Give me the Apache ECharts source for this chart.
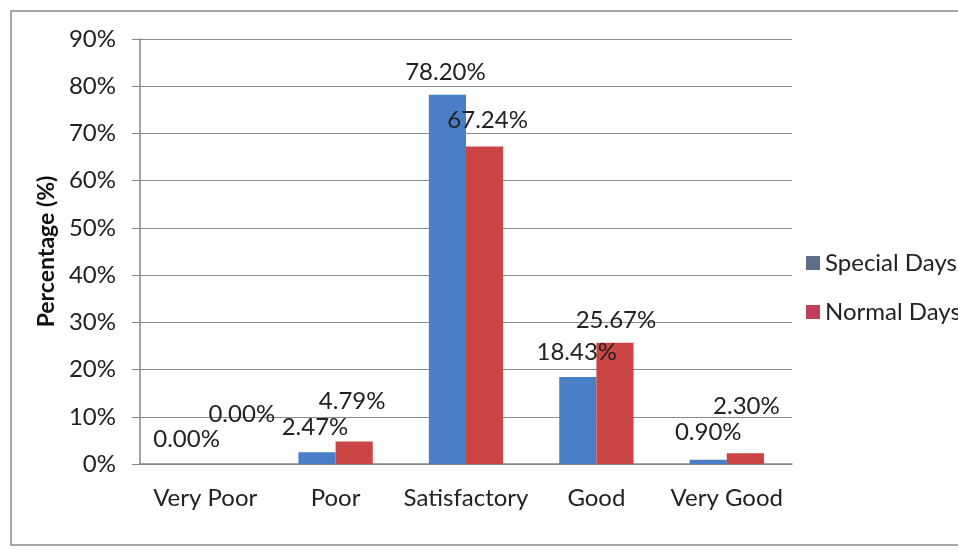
<!DOCTYPE html>
<html><head><meta charset="utf-8">
<script src="https://cdn.jsdelivr.net/npm/echarts@6/dist/echarts.min.js"></script>
<style>html,body{margin:0;padding:0;background:#fff}#c{width:958px;height:550px}</style>
</head><body><div id="c"></div>
<script>
const categories = ['Very Poor','Poor','Satisfactory','Good','Very Good'];
const specialDays = [0.00, 2.47, 78.20, 18.43, 0.90];
const normalDays = [0.00, 4.79, 67.24, 25.67, 2.30];
const yTicks = [0,10,20,30,40,50,60,70,80,90];
// label nudges (as moved in the original)
const specialNudge = [[0,0],[-2,0],[-2,3],[-1,0],[0,-2]];
const normalNudge = [[18,-25],[-2,-15],[3,-1],[1,2],[1,-22]];

const FONT = 'Lato';
const chart = echarts.init(document.getElementById('c'));
function mk(vals, nudge){
  return vals.map((v,i)=>({value:v,label:{offset:nudge[i]}}));
}
chart.setOption({
  animation:false,
  textStyle:{fontFamily:FONT},
  graphic:[{type:'rect',shape:{x:11,y:11,width:960,height:534},style:{fill:'none',stroke:'#8c8c8c',lineWidth:1.5},z:-10}],
  grid:{left:140,top:39,right:166,bottom:86},
  legend:{
    orient:'vertical', left:801, top:246, itemGap:25, itemWidth:14, itemHeight:14,
    icon:'rect',
    textStyle:{fontFamily:FONT,fontSize:24,color:'#222'},
    data:[{name:'Special Days',itemStyle:{color:'#5b6f88'}},{name:'Normal Days',itemStyle:{color:'#c0405c'}}]
  },
  xAxis:{
    type:'category', data:categories,
    axisLine:{lineStyle:{color:'#868686',width:1.5}},
    axisTick:{length:8,lineStyle:{color:'#868686'}},
    axisLabel:{fontSize:24,color:'#222',margin:22,fontFamily:FONT,interval:0}
  },
  yAxis:{
    type:'value', min:yTicks[0], max:yTicks[yTicks.length-1], interval:10,
    name:'Percentage (%)', nameLocation:'middle', nameGap:80, nameRotate:90,
    nameTextStyle:{fontSize:23,fontWeight:'bold',color:'#111',fontFamily:FONT},
    axisLine:{show:true,lineStyle:{color:'#868686',width:1.5}},
    axisTick:{show:true,length:8,inside:false,lineStyle:{color:'#868686'}},
    axisLabel:{formatter:'{value}%',fontSize:24,color:'#222',margin:24,fontFamily:FONT},
    splitLine:{lineStyle:{color:'#8a8a8a',width:1}}
  },
  series:[
    {name:'Special Days',type:'bar',data:mk(specialDays,specialNudge),barGap:'0%',barCategoryGap:'43%',
     itemStyle:{color:'#4a7ec6'},
     label:{show:true,position:'top',distance:13,fontSize:24,color:'#222',fontFamily:FONT,formatter:p=>p.value.toFixed(2)+'%'}},
    {name:'Normal Days',type:'bar',data:mk(normalDays,normalNudge),barGap:'0%',barCategoryGap:'43%',
     itemStyle:{color:'#cc4545'},
     label:{show:true,position:'top',distance:13,fontSize:24,color:'#222',fontFamily:FONT,formatter:p=>p.value.toFixed(2)+'%'}}
  ]
});
</script></body></html>
